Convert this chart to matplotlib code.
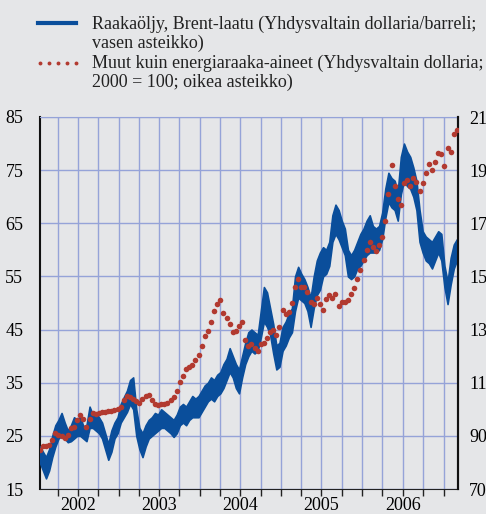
import numpy as np
import pandas as pd
import matplotlib
matplotlib.use('Agg')
import matplotlib.pyplot as plt
import matplotlib.dates as mdates
from matplotlib.lines import Line2D

# biweekly observation dates
dates = pd.date_range('2002-01-11', periods=135, freq='14D')

# Brent crude, USD/barrel: low and high of the daily band (left axis)
brent_low = [20.0, 18.5, 17.0, 18.5, 21.0, 23.0, 24.5, 25.0, 24.5, 23.8,
             24.0, 24.5, 25.0, 25.0, 24.5, 24.0, 26.5, 26.5, 26.0, 25.5,
             24.5, 22.5, 20.5, 22.0, 24.5, 25.5, 27.5, 28.5, 29.5, 31.0,
             30.0, 25.0, 22.5, 21.0, 23.0, 24.5, 25.0, 25.5, 26.0, 26.5,
             26.5, 26.0, 25.5, 24.8, 25.5, 27.0, 27.5, 27.0, 28.0, 28.5,
             28.5, 28.5, 29.5, 30.5, 31.5, 32.0, 31.5, 32.5, 33.0, 34.0,
             35.5, 37.0, 36.0, 34.0, 33.0, 36.0, 38.5, 40.0, 41.0, 40.5,
             41.0, 43.5, 46.5, 45.5, 44.0, 40.5, 37.5, 38.0, 41.0, 42.0,
             43.5, 44.5, 48.5, 51.0, 50.5, 50.0, 48.5, 45.5, 49.0, 51.5,
             52.5, 55.0, 55.5, 57.0, 61.5, 63.0, 62.0, 60.5, 59.0, 55.0,
             54.5, 55.0, 56.5, 57.0, 58.0, 59.0, 59.5, 59.5, 59.5, 60.0,
             62.0, 66.0, 69.0, 68.0, 67.5, 65.5, 70.5, 73.0, 72.0, 71.5,
             70.0, 67.5, 61.5, 59.5, 58.0, 57.5, 56.5, 58.0, 59.5, 58.0,
             53.0, 49.8, 53.5, 56.5, 58.0]
brent_high = [23.0, 22.0, 21.0, 22.5, 25.0, 27.0, 28.0, 29.3, 27.5, 26.0,
              27.0, 28.5, 28.0, 28.5, 26.8, 27.0, 30.5, 29.0, 29.3, 28.5,
              27.5, 25.5, 23.5, 26.0, 27.5, 28.5, 31.0, 32.3, 33.5, 35.5,
              36.0, 30.0, 26.5, 25.5, 27.0, 28.0, 28.5, 29.3, 29.0, 30.0,
              29.5, 29.0, 28.5, 28.0, 29.0, 30.5, 31.0, 30.5, 31.5, 32.5,
              32.0, 32.5, 33.5, 34.5, 35.0, 36.0, 35.5, 36.5, 37.0, 38.5,
              39.5, 41.5, 40.0, 38.5, 37.5, 40.0, 42.5, 44.5, 45.0, 44.5,
              44.0, 48.5, 53.0, 52.0, 49.0, 46.0, 42.0, 42.5, 45.5, 46.5,
              48.0, 49.0, 55.0, 56.8, 55.5, 54.5, 53.0, 51.0, 55.0, 58.0,
              59.5, 60.5, 60.0, 61.5, 66.5, 68.5, 67.5, 65.5, 64.0, 60.0,
              59.0, 60.0, 61.5, 63.0, 64.0, 65.5, 66.5, 64.5, 64.0, 64.5,
              67.0, 71.5, 74.5, 73.5, 73.0, 71.0, 77.5, 80.0, 78.5, 77.5,
              75.5, 73.0, 67.5, 63.5, 62.5, 62.0, 61.5, 62.5, 63.5, 63.0,
              57.0, 54.0, 58.5, 61.0, 62.0]

# non-energy commodities, 2000 = 100 (right axis)
non_energy = [84.5, 86, 86, 86.5, 88.5, 91, 90.3, 90, 89.2, 90.3,
              93, 93.5, 96, 97.8, 96.5, 93.5, 96.5, 98.6, 98.3, 98.6,
              98.8, 99, 99.5, 99.5, 99.8, 100, 101, 103.5, 105, 104.8,
              104, 103, 102.4, 104, 105, 105.4, 103.6, 102, 101.8, 102,
              102, 102.3, 103.6, 104.8, 107, 110.3, 112.5, 115, 115.8, 116.5,
              118.5, 120.5, 124, 127.5, 129.5, 133, 137, 139.5, 141, 136.2,
              134.5, 132, 129, 129.5, 131.5, 132.8, 126, 124, 124.5, 123,
              121.8, 124.5, 125, 127, 129, 130, 128, 131, 137.5, 136,
              136.5, 140, 146, 149, 146, 146, 144, 140.5, 139.5, 142,
              139.5, 137.5, 141.5, 143, 141.8, 143.5, 139, 140.4, 140.5, 141,
              143.5, 145.5, 149, 152.4, 156, 160, 163, 161, 159.5, 162,
              165, 171, 181, 192, 184, 179, 177, 185, 186.3, 184,
              187, 185.5, 182, 185, 189, 192.5, 190, 193, 196.4, 196,
              191.5, 198.5, 197, 203.5, 205]

left_ticks = [15, 25, 35, 45, 55, 65, 75, 85]
right_ticks = [70, 90, 110, 130, 150, 170, 190, 210]

bg = '#e5e6e8'
blue = '#0a4e9b'
red = '#b23a30'
gridc = '#95a3d8'

plt.rcParams['font.family'] = ['Liberation Serif', 'DejaVu Serif']
plt.rcParams['font.size'] = 13

fig = plt.figure(figsize=(4.86, 5.14), dpi=100, facecolor=bg)
ax = fig.add_axes([40 / 486, 1 - 489 / 514, 418 / 486, 372 / 514])
ax.set_facecolor(bg)

ax.fill_between(dates, brent_low, brent_high, color=blue, lw=1.2, zorder=3)

ax.set_ylim(15, 85)
ax.set_yticks(left_ticks)
ax.set_xlim(pd.Timestamp('2002-01-12'), pd.Timestamp('2007-03-07'))

# quarter ticks + year labels at mid-year
ax.xaxis.set_minor_locator(mdates.MonthLocator(bymonth=[1, 4, 7, 10]))
ax.xaxis.set_major_locator(mdates.MonthLocator(bymonth=7))
ax.xaxis.set_major_formatter(mdates.DateFormatter('%Y'))
ax.xaxis.remove_overlapping_locs = False
ax.tick_params(axis='x', which='major', length=0, pad=6)
ax.tick_params(axis='x', which='minor', length=5, width=1, direction='out', color='#222222')
ax.tick_params(axis='y', length=0, pad=12)

ax.grid(which='minor', axis='x', color=gridc, lw=1)
ax.grid(which='major', axis='y', color=gridc, lw=1)
ax.set_axisbelow(True)

ax.spines['top'].set_color(gridc)
ax.spines['left'].set_color('#111111')
ax.spines['left'].set_linewidth(1.5)
ax.spines['bottom'].set_color('#222222')
ax.spines['right'].set_color('#111111')
ax.spines['right'].set_linewidth(1.5)

ax2 = ax.twinx()
ax2.plot(dates, non_energy, 'o', color=red, ms=4, mew=0, zorder=4)
ax2.set_ylim(70, 210)
ax2.set_yticks(right_ticks)
ax2.tick_params(axis='y', length=0, pad=8)
for s in ['top', 'left', 'bottom']:
    ax2.spines[s].set_visible(False)
ax2.spines['right'].set_color('#111111')
ax2.spines['right'].set_linewidth(1.5)

# legend drawn by hand
def fy(py):
    return 1 - py / 514

fig.add_artist(Line2D([38 / 486, 76 / 486], [fy(23), fy(23)], color=blue, lw=3,
                      transform=fig.transFigure))
fig.add_artist(Line2D([40 / 486, 49 / 486, 58 / 486, 67 / 486, 76 / 486], [fy(63)] * 5,
                      ls='none', marker='o', ms=2.8, mew=0, color=red,
                      transform=fig.transFigure))
legend_lines = ['Raakaöljy, Brent-laatu (Yhdysvaltain dollaria/barreli;',
                'vasen asteikko)',
                'Muut kuin energiaraaka-aineet (Yhdysvaltain dollaria;',
                '2000 = 100; oikea asteikko)']
for txt, py in zip(legend_lines, [29, 48.3, 67.6, 87]):
    fig.text(92 / 486, fy(py), txt, va='baseline', ha='left', color='#222222')

fig.savefig('out.png', dpi=100, facecolor=bg)
